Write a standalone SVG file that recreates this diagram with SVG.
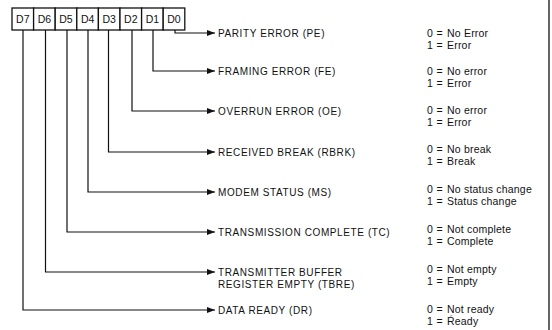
<svg xmlns="http://www.w3.org/2000/svg" width="552" height="330" viewBox="0 0 552 330">
<style>
text{font-family:"Liberation Sans",Arial,sans-serif;fill:#111}
.cell{fill:#fff;stroke:#111;stroke-width:1.3}
.bit{font-size:10.5px;text-anchor:middle}
.lbl{font-size:10px;letter-spacing:0.6px}
.val{font-size:10.5px;letter-spacing:0.2px}
.eq{font-size:10.5px}
.con{fill:none;stroke:#111;stroke-width:1.2}
</style>
<defs>
<marker id="ah" markerWidth="8" markerHeight="6" refX="8" refY="3" orient="auto" markerUnits="userSpaceOnUse">
<path d="M0,0 L8,3 L0,6 Z" fill="#111"/>
</marker>
</defs>
<g id="register">
<rect class="cell" x="12" y="8" width="21.6" height="22"/>
<rect class="cell" x="33.6" y="8" width="21.6" height="22"/>
<rect class="cell" x="55.2" y="8" width="21.6" height="22"/>
<rect class="cell" x="76.8" y="8" width="21.6" height="22"/>
<rect class="cell" x="98.4" y="8" width="21.6" height="22"/>
<rect class="cell" x="120" y="8" width="21.6" height="22"/>
<rect class="cell" x="141.6" y="8" width="21.6" height="22"/>
<rect class="cell" x="163.2" y="8" width="21.6" height="22"/>
<text class="bit" x="22.8" y="23">D7</text>
<text class="bit" x="44.4" y="23">D6</text>
<text class="bit" x="66" y="23">D5</text>
<text class="bit" x="87.6" y="23">D4</text>
<text class="bit" x="109.2" y="23">D3</text>
<text class="bit" x="130.8" y="23">D2</text>
<text class="bit" x="152.4" y="23">D1</text>
<text class="bit" x="174" y="23">D0</text>
</g>
<g id="connectors">
<path class="con" marker-end="url(#ah)" d="M175,30 V33 H215"/>
<path class="con" marker-end="url(#ah)" d="M153,30 V71 H215"/>
<path class="con" marker-end="url(#ah)" d="M132,30 V111 H215"/>
<path class="con" marker-end="url(#ah)" d="M108.5,30 V152 H215"/>
<path class="con" marker-end="url(#ah)" d="M88,30 V192 H215"/>
<path class="con" marker-end="url(#ah)" d="M67,30 V232 H215"/>
<path class="con" marker-end="url(#ah)" d="M45.5,30 V272 H215"/>
<path class="con" marker-end="url(#ah)" d="M23,30 V310 H215"/>
</g>
<g id="pe">
<text class="lbl" x="218" y="37">PARITY ERROR (PE)</text>
<text class="val" x="427" y="37">0</text><text class="eq" x="436.5" y="37">=</text><text class="val" x="447" y="37">No Error</text>
<text class="val" x="427" y="49">1</text><text class="eq" x="436.5" y="49">=</text><text class="val" x="447" y="49">Error</text>
</g>
<g id="fe">
<text class="lbl" x="218" y="75">FRAMING ERROR (FE)</text>
<text class="val" x="427" y="75">0</text><text class="eq" x="436.5" y="75">=</text><text class="val" x="447" y="75">No error</text>
<text class="val" x="427" y="87">1</text><text class="eq" x="436.5" y="87">=</text><text class="val" x="447" y="87">Error</text>
</g>
<g id="oe">
<text class="lbl" x="218" y="115">OVERRUN ERROR (OE)</text>
<text class="val" x="427" y="114">0</text><text class="eq" x="436.5" y="114">=</text><text class="val" x="447" y="114">No error</text>
<text class="val" x="427" y="126">1</text><text class="eq" x="436.5" y="126">=</text><text class="val" x="447" y="126">Error</text>
</g>
<g id="rbrk">
<text class="lbl" x="218" y="156">RECEIVED BREAK (RBRK)</text>
<text class="val" x="427" y="153">0</text><text class="eq" x="436.5" y="153">=</text><text class="val" x="447" y="153">No break</text>
<text class="val" x="427" y="165">1</text><text class="eq" x="436.5" y="165">=</text><text class="val" x="447" y="165">Break</text>
</g>
<g id="ms">
<text class="lbl" x="218" y="196">MODEM STATUS (MS)</text>
<text class="val" x="427" y="193">0</text><text class="eq" x="436.5" y="193">=</text><text class="val" x="447" y="193">No status change</text>
<text class="val" x="427" y="205">1</text><text class="eq" x="436.5" y="205">=</text><text class="val" x="447" y="205">Status change</text>
</g>
<g id="tc">
<text class="lbl" x="218" y="236">TRANSMISSION COMPLETE (TC)</text>
<text class="val" x="427" y="233">0</text><text class="eq" x="436.5" y="233">=</text><text class="val" x="447" y="233">Not complete</text>
<text class="val" x="427" y="245">1</text><text class="eq" x="436.5" y="245">=</text><text class="val" x="447" y="245">Complete</text>
</g>
<g id="tbre">
<text class="lbl" x="218" y="276">TRANSMITTER BUFFER</text>
<text class="lbl" x="218" y="288">REGISTER EMPTY (TBRE)</text>
<text class="val" x="427" y="273">0</text><text class="eq" x="436.5" y="273">=</text><text class="val" x="447" y="273">Not empty</text>
<text class="val" x="427" y="285">1</text><text class="eq" x="436.5" y="285">=</text><text class="val" x="447" y="285">Empty</text>
</g>
<g id="dr">
<text class="lbl" x="218" y="314">DATA READY (DR)</text>
<text class="val" x="427" y="313">0</text><text class="eq" x="436.5" y="313">=</text><text class="val" x="447" y="313">Not ready</text>
<text class="val" x="427" y="325">1</text><text class="eq" x="436.5" y="325">=</text><text class="val" x="447" y="325">Ŕeady</text>
</g>
<line x1="549" y1="0" x2="549" y2="330" stroke="#111" stroke-width="1.3"/>
</svg>
